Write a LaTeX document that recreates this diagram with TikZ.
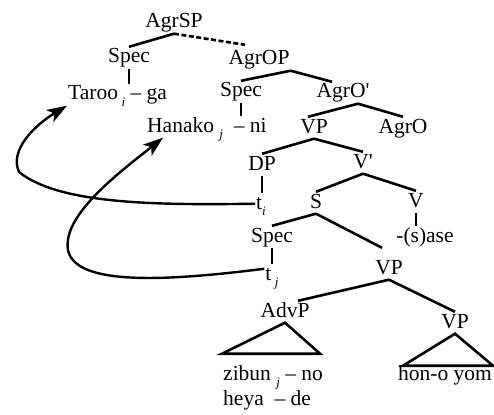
\documentclass[tikz,border=0pt]{standalone}
\usepackage{fontspec}
\setmainfont{Liberation Serif}
\usepackage{tikz}
\usetikzlibrary{arrows.meta}
\newcommand\idx[1]{\raisebox{-0.3em}{\fontsize{13}{13}\selectfont\itshape #1}}
\tikzset{
  cat/.style={anchor=base,inner sep=1pt,text height=15pt,text depth=4.5pt},
  word/.style={cat,anchor=base west},
  branch/.style={line width=2.6pt},
  stem/.style={line width=2pt},
  move/.style={line width=2.4pt,-{Stealth[length=20pt,width=14pt,inset=5pt]}}
}
\begin{document}
\begin{tikzpicture}[x=1pt,y=-1pt,font=\rmfamily\fontsize{21.5}{25}\selectfont]
	\useasboundingbox (0,0) rectangle (494,414);
	\node[cat] (agrsp) at (174,28) {AgrSP};
	\node[cat] (spec1) at (129,63) {Spec};
	\node[word] (taroo) at (67,100) {Taroo\,\idx{i} – ga};
	\node[cat] (agrop) at (259,65) {AgrOP};
	\node[cat] (spec2) at (241,97) {Spec};
	\node[cat] (agrobar) at (343,98) {AgrO\textquotesingle};
	\node[word] (hanako) at (146,132) {Hanako \idx{j} \ – ni};
	\node[cat] (vp1) at (314,133) {VP};
	\node[cat] (agro) at (403,133) {AgrO};
	\node[cat] (dp) at (262,170) {DP};
	\node[cat] (vbar) at (363,168) {V\textquotesingle};
	\node[cat] (ti) at (261,209) {t\idx{i}};
	\node[cat] (s) at (316,208) {S};
	\node[cat] (v) at (416,207) {V};
	\node[cat] (spec3) at (272,242) {Spec};
	\node[cat] (sase) at (425,242) {-(s)ase};
	\node[cat] (tj) at (272,280) {t\,\idx{j}};
	\node[cat] (vp2) at (389,274) {VP};
	\node[cat] (advp) at (285,317) {AdvP};
	\node[cat] (vp3) at (455,328) {VP};
	\node[word] (zibun) at (222,380) {zibun \idx{j} – no};
	\node[word] (hon) at (397,380) {hon-o yom};
	\node[word] (heya) at (222,405) {heya \ – de};
	\foreach \a/\b in {agrsp/spec1,vp1/dp,vp1/vbar,vbar/s,vbar/v,s/spec3,vp2/vp3}
	  \draw[branch] (\a.south) -- (\b.north);
	\draw[branch,dash pattern=on 5pt off 2.5pt] (agrsp.south) -- ([shift={(-14,-4)}]agrop.north);
	\draw[branch] (agrop.south east) -- (spec2.north);
	\draw[branch] (agrop.south east) -- ([xshift=-11pt]agrobar.north);
	\draw[branch] ([xshift=15pt]agrobar.south) -- ([xshift=-6pt]vp1.north);
	\draw[branch] ([xshift=15pt]agrobar.south) -- (agro.north);
	\draw[branch] (s.south) -- ([shift={(-7,-10)}]vp2.north);
	\draw[branch] (vp2.south) -- ([xshift=13pt]advp.north);
	\draw[stem] (spec1.south) -- (spec1.south |- taroo.north);
	\draw[stem] (spec2.south) -- (spec2.south |- hanako.north);
	\draw[stem] (dp.south) -- (dp.south |- ti.north);
	\draw[stem] (v.south) -- (v.south |- sase.north);
	\draw[stem] (spec3.south) -- (spec3.south |- tj.north);
	\draw[branch] (advp.south) -- ++(-63,31) -- ++(98,0) -- cycle;
	\draw[branch] (vp3.south) -- ++(-52,32) -- ++(90,0) -- cycle;
	\draw[move] (ti.west) .. controls (160,205) and (60,205) .. (19,172)
	  .. controls (9,150) and (35,125) .. (taroo.south west);
	\draw[move] ([yshift=6pt]tj.west) .. controls (160,282) and (75,285) .. (68,250)
	  .. controls (62,215) and (120,172) .. ([xshift=17pt]hanako.south west);
\end{tikzpicture}
\end{document}
